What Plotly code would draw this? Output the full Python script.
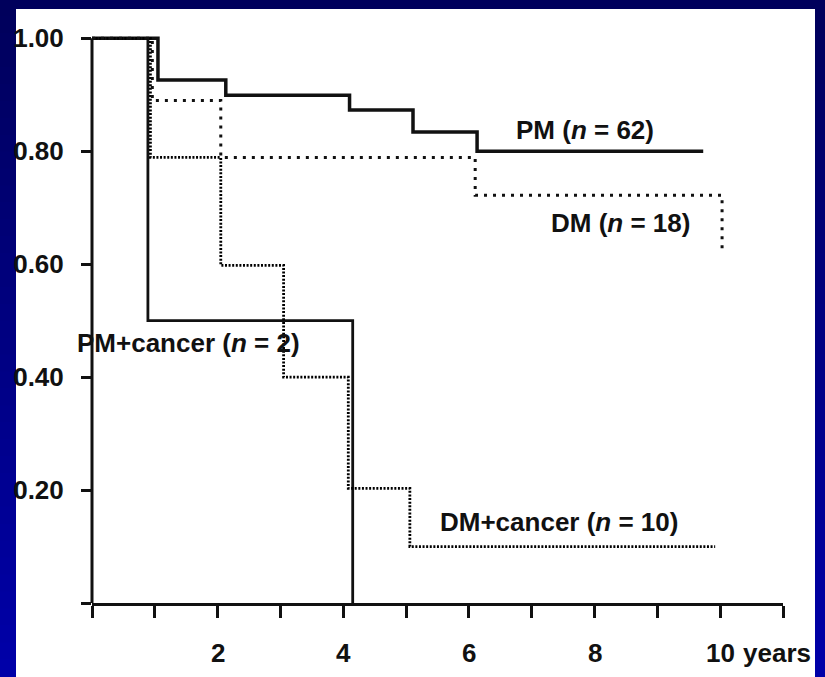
import plotly.graph_objects as go

# ---- data ----
pm_t = [0, 1.05, 2.13, 4.10, 5.11, 6.13, 9.73]
pm_s = [1.00, 0.926, 0.899, 0.873, 0.834, 0.800, 0.800]

dm_t = [0, 0.96, 2.05, 6.10, 10.03]
dm_s = [1.00, 0.890, 0.789, 0.722, 0.619]

pmc_t = [0, 0.89, 4.15]
pmc_s = [1.00, 0.50, 0.00]

dmc_t = [0, 0.93, 2.05, 3.05, 4.08, 5.06, 9.92]
dmc_s = [1.00, 0.789, 0.598, 0.400, 0.203, 0.100, 0.100]

x_tick_vals = [0, 1, 2, 3, 4, 5, 6, 7, 8, 9, 10, 11]
x_label_vals = [2, 4, 6, 8, 10]
x_label_text = ["2", "4", "6", "8", "10"]
y_tick_vals = [0, 0.2, 0.4, 0.6, 0.8, 1.0]
y_tick_text = ["", "0.20", "0.40", "0.60", "0.80", "1.00"]

labels = [
    ("PM (<i>n</i> = 62)", 7.85, 0.837),
    ("DM (<i>n</i> = 18)", 8.41, 0.673),
    ("PM+cancer (<i>n</i> = 2)", 1.53, 0.46),
    ("DM+cancer (<i>n</i> = 10)", 7.44, 0.143),
]

# ---- layout geometry ----
W, H = 825, 677
ML, MR, MT, MB = 92, 42, 27, 74
PW, PH = W - ML - MR, H - MT - MB
FONT = "Liberation Sans, Arial, sans-serif"
FS = 26


def px_x(p):
    return (p - ML) / PW


def px_y(p):
    return (H - MB - p) / PH


fig = go.Figure()

fig.add_trace(go.Scatter(x=pmc_t, y=pmc_s, mode="lines", line_shape="hv",
                         line=dict(color="#111", width=2.8), showlegend=False))
fig.add_trace(go.Scatter(x=pm_t, y=pm_s, mode="lines", line_shape="hv",
                         line=dict(color="#111", width=3.5), showlegend=False))
fig.add_trace(go.Scatter(x=dmc_t, y=dmc_s, mode="lines", line_shape="hv",
                         line=dict(color="#000", width=2.8, dash="2px,1.6px"),
                         showlegend=False))
fig.add_trace(go.Scatter(x=dm_t, y=dm_s, mode="lines", line_shape="hv",
                         line=dict(color="#111", width=3, dash="3px,6px"),
                         showlegend=False))

shapes = []
# gradient navy background
n = 40
for i in range(n):
    f = i / (n - 1)
    b = int(92 + (168 - 92) * f)
    shapes.append(dict(type="rect", xref="paper", yref="paper",
                       x0=px_x(-2), x1=px_x(W + 2),
                       y0=px_y(H * (i + 1) / n + 1), y1=px_y(H * i / n - 1),
                       fillcolor=f"rgb(0,0,{b})", line=dict(width=0),
                       layer="below"))
# white panel
shapes.append(dict(type="rect", xref="paper", yref="paper",
                   x0=px_x(16), x1=px_x(815), y0=px_y(H + 2), y1=px_y(9),
                   fillcolor="white", line=dict(width=0), layer="below"))
# y axis line from 0 to 1 (paper x so it is not clipped horizontally)
shapes.append(dict(type="line", xref="paper", yref="y", x0=0, x1=0, y0=0, y1=1.0,
                   line=dict(color="#111", width=3), layer="above"))

font = dict(family=FONT, size=FS, color="#111", weight="bold")
annotations = []
for txt, x, y in labels:
    annotations.append(dict(text=txt, x=x, y=y, xref="x", yref="y",
                            showarrow=False, xanchor="center", yanchor="middle",
                            font=font))
for v, t in zip(x_label_vals, x_label_text):
    annotations.append(dict(text=t, x=v, y=0, xref="x", yref="y",
                            showarrow=False, xanchor="center", yanchor="middle",
                            yshift=-50, font=font))
annotations.append(dict(text="years", x=10, y=0, xref="x", yref="y",
                        showarrow=False, xanchor="left", yanchor="middle",
                        xshift=21, yshift=-50, font=font))

fig.update_layout(
    width=W, height=H,
    margin=dict(l=ML, r=MR, t=MT, b=MB, pad=0, autoexpand=False),
    paper_bgcolor="#000070",
    plot_bgcolor="rgba(0,0,0,0)",
    shapes=shapes,
    annotations=annotations,
    xaxis=dict(range=[0, 11], tickvals=x_tick_vals, showticklabels=False,
               ticks="outside", ticklen=12, tickwidth=2.5, tickcolor="#111",
               showline=True, linewidth=3, linecolor="#111", automargin=False,
               showgrid=False, zeroline=False, fixedrange=True),
    yaxis=dict(range=[0, 1.02], tickvals=y_tick_vals, ticktext=y_tick_text,
               ticks="outside", ticklen=10, tickwidth=2.5, tickcolor="#111",
               showline=False, showgrid=False, zeroline=False, automargin=False,
               tickfont=font, ticklabelstandoff=12, fixedrange=True),
)

fig.write_html(
    "out.html",
    config={"displayModeBar": False},
    post_script="document.body.style.margin='0';"
                "document.body.style.background='#000070';"
                "document.body.style.overflow='hidden';",
)
